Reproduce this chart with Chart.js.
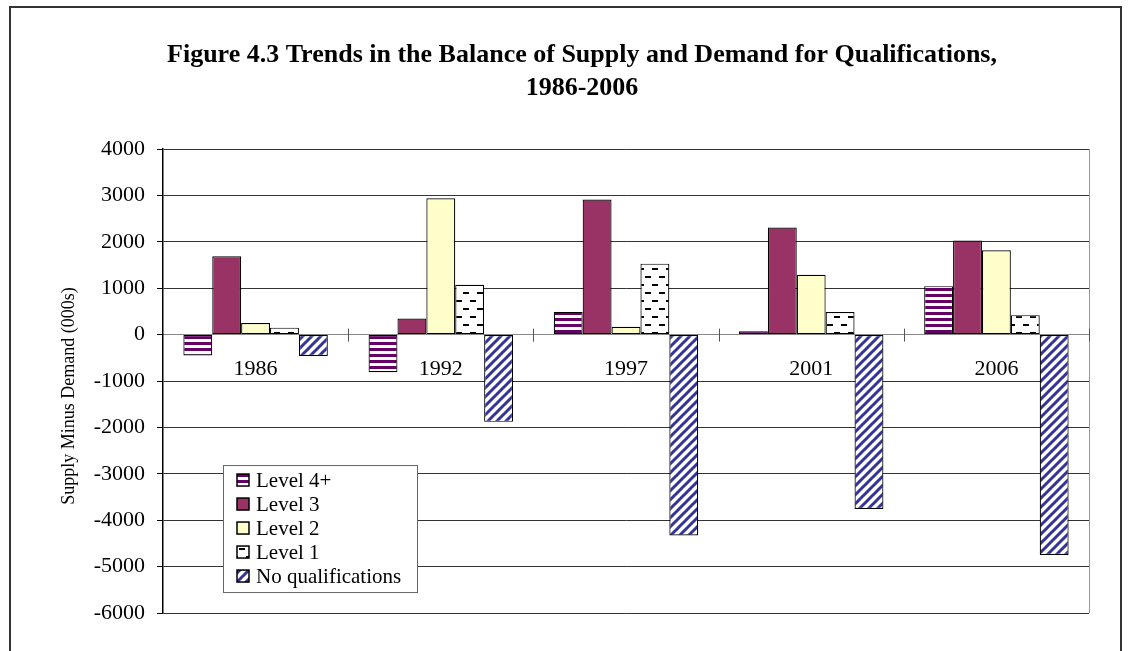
<!DOCTYPE html>
<html>
<head>
<meta charset="utf-8">
<script src="https://cdn.jsdelivr.net/npm/chart.js@4.4.1/dist/chart.umd.min.js"></script>
<style>
  html, body { margin: 0; padding: 0; background: #fff; }
  #wrap { width: 1135px; height: 651px; }
</style>
</head>
<body>
<div id="wrap"><canvas id="qualChart"></canvas></div>
<script>
// Data
const years = ['1986', '1992', '1997', '2001', '2006'];
const seriesNames = ['Level 4+', 'Level 3', 'Level 2', 'Level 1', 'No qualifications'];
const level4Plus = [-450, -810, 490, 75, 1045];
const level3 = [1690, 345, 2910, 2310, 2030];
const level2 = [250, 2940, 170, 1290, 1820];
const level1 = [150, 1075, 1530, 485, 420];
const noQualifications = [-460, -1880, -4330, -3760, -4750];
const yMin = -6000;
const yMax = 4000;
const yStep = 1000;
const yTitle = 'Supply Minus Demand (000s)';

// Colors
const purpleStripe = '#660066';
const level3Color = '#993366';
const level2Color = '#FFFFCC';
const navyStripe = '#333399';
const serif = "'Liberation Serif', 'Times New Roman', serif";

// Fill patterns (Excel style)
function makePattern(w, h, draw) {
    const c = document.createElement('canvas');
    c.width = w;
    c.height = h;
    const g = c.getContext('2d');
    g.fillStyle = '#fff';
    g.fillRect(0, 0, w, h);
    draw(g);
    return g.createPattern(c, 'repeat');
}

const stripesPattern = makePattern(6, 6, g => {
    g.fillStyle = purpleStripe;
    g.fillRect(0, 0, 6, 3);
});

const dashPattern = makePattern(14, 16, g => {
    g.fillStyle = '#000';
    g.fillRect(1, 4, 6, 2);
    g.fillRect(8, 12, 6, 2);
});

const diagonalPattern = makePattern(9, 9, g => {
    g.strokeStyle = navyStripe;
    g.lineWidth = 3;
    g.beginPath();
    g.moveTo(-1, 10); g.lineTo(10, -1);
    g.moveTo(-5.5, 5.5); g.lineTo(5.5, -5.5);
    g.moveTo(3.5, 14.5); g.lineTo(14.5, 3.5);
    g.stroke();
});

const seriesValues = [level4Plus, level3, level2, level1, noQualifications];
const seriesFills = [stripesPattern, level3Color, level2Color, dashPattern, diagonalPattern];

// Frame around whole figure, plot border, category tick marks, y title
const framePlugin = {
    id: 'framePlugin',
    afterDraw: (chart) => {
        const ctx = chart.ctx;
        const area = chart.chartArea;
        ctx.save();
        ctx.strokeStyle = '#333';
        ctx.lineWidth = 2;
        ctx.strokeRect(10, 7, 1111, 700);
        // y axis title (sits a bit below the axis middle, as in the original)
        ctx.translate(area.left - 94, (area.top + area.bottom) / 2 + 15);
        ctx.rotate(-Math.PI / 2);
        ctx.font = '18px ' + serif;
        ctx.fillStyle = '#000';
        ctx.textAlign = 'center';
        ctx.textBaseline = 'middle';
        ctx.fillText(yTitle, 0, 0);
        ctx.restore();
    },
    beforeDatasetsDraw: (chart) => {
        const ctx = chart.ctx;
        const area = chart.chartArea;
        const x = chart.scales.x;
        const y0 = chart.scales.y.getPixelForValue(0);
        ctx.save();
        ctx.strokeStyle = '#999';
        ctx.lineWidth = 1;
        ctx.beginPath();
        ctx.moveTo(area.right + 0.5, area.top);
        ctx.lineTo(area.right + 0.5, area.bottom);
        ctx.stroke();
        // ticks between categories
        ctx.strokeStyle = '#555';
        const half = (x.getPixelForValue(1) - x.getPixelForValue(0)) / 2;
        for (let i = 0; i < years.length; i++) {
            const px = Math.round(x.getPixelForValue(i) + half) + 0.5;
            ctx.beginPath();
            ctx.moveTo(px, y0 - 6);
            ctx.lineTo(px, y0 + 7);
            ctx.stroke();
        }
        ctx.restore();
    }
};

// Legend box inside plot area
const boxLegend = {
    id: 'boxLegend',
    afterDatasetsDraw: (chart) => {
        const ctx = chart.ctx;
        const area = chart.chartArea;
        const left = area.left + 60;
        const top = area.top + 316;
        const w = 194;
        const h = 127;
        ctx.save();
        ctx.fillStyle = '#fff';
        ctx.fillRect(left, top, w, h);
        ctx.strokeStyle = '#666';
        ctx.lineWidth = 1;
        ctx.strokeRect(left + 0.5, top + 0.5, w, h);
        ctx.font = '21px ' + serif;
        ctx.textBaseline = 'middle';
        chart.data.datasets.forEach((ds, i) => {
            const cy = top + 15 + i * 24;
            ctx.fillStyle = ds.backgroundColor;
            ctx.fillRect(left + 14, cy - 6, 12, 12);
            ctx.strokeStyle = '#000';
            ctx.lineWidth = 1.5;
            ctx.strokeRect(left + 14, cy - 6, 12, 12);
            ctx.fillStyle = '#000';
            ctx.fillText(ds.label, left + 33, cy + 1);
        });
        ctx.restore();
    }
};

new Chart(document.getElementById('qualChart').getContext('2d'), {
    type: 'bar',
    data: {
        labels: years,
        datasets: seriesNames.map((name, i) => ({
            label: name,
            data: seriesValues[i],
            backgroundColor: seriesFills[i],
            borderColor: '#000',
            borderWidth: 1.2,
            borderSkipped: false,
            categoryPercentage: 0.78,
            barPercentage: 1
        }))
    },
    options: {
        responsive: true,
        maintainAspectRatio: false,
        animation: false,
        layout: { padding: { left: 75, right: 46, top: 0, bottom: 38 } },
        plugins: {
            legend: { display: false },
            tooltip: { enabled: false },
            title: {
                display: true,
                text: ['Figure 4.3 Trends in the Balance of Supply and Demand for Qualifications,', '1986-2006'],
                color: '#000',
                font: { family: serif, size: 26, weight: 'bold', lineHeight: 1.27 },
                padding: { top: 39, bottom: 44 }
            }
        },
        scales: {
            x: {
                position: { y: 0 },
                grid: { display: false },
                border: { display: true, color: '#888', width: 1 },
                ticks: {
                    color: '#000',
                    font: { family: serif, size: 22 },
                    padding: 13
                }
            },
            y: {
                min: yMin,
                max: yMax,
                afterFit: (scale) => { scale.width = 88; },
                ticks: {
                    stepSize: yStep,
                    color: '#000',
                    font: { family: serif, size: 22 },
                    padding: 12,
                    callback: (value) => String(value)
                },
                grid: {
                    color: (c) => c.tick && c.tick.value === 0 ? '#888' : '#333',
                    tickColor: '#000',
                    tickLength: 6
                },
                border: { display: true, color: '#000', width: 1.5 },
                title: { display: false }
            }
        }
    },
    plugins: [framePlugin, boxLegend]
});
</script>
</body>
</html>
